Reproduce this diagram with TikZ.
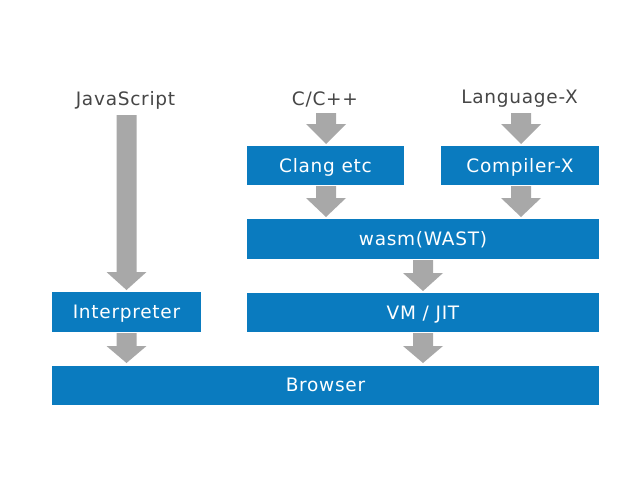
\documentclass[tikz,border=0pt]{standalone}
\usepackage{fontspec}
\setmainfont{DejaVu Sans}[LetterSpace=4]
\definecolor{boxblue}{HTML}{0A7BBF}
\definecolor{arrowgray}{HTML}{A8A8A8}
\definecolor{labelgray}{HTML}{464646}
\newcommand\garrow[4]{\fill[arrowgray] (#1-10,#2) -- (#1+10,#2) -- (#1+10,#3) -- (#1+20,#3) -- (#1,#4) -- (#1-20,#3) -- (#1-10,#3) -- cycle;}
\begin{document}
\begin{tikzpicture}[x=1pt,y=-1pt,
  box/.style={fill=boxblue, text=white, inner sep=0pt, text height=13.5pt, text depth=0pt, font=\fontsize{18.5}{21}\selectfont},
  lbl/.style={text=labelgray, inner sep=0pt, text height=13.5pt, text depth=0pt, font=\fontsize{18.5}{21}\selectfont}]
\useasboundingbox (0,0) rectangle (638,479);
\fill[white] (0,0) rectangle (638,479);
% labels
\node[lbl] (js) at (125.5,98.5) {JavaScript};
\node[lbl] (cpp) at (325,98.5) {C/C++};
\node[lbl] (langx) at (519.5,96.5) {Language-X};
% boxes
\node[box, minimum width=157pt, minimum height=39pt] (clang) at (325.5,165.5) {Clang etc};
\node[box, minimum width=158pt, minimum height=39pt] (compx) at (520,165.5) {Compiler-X};
\node[box, minimum width=352pt, minimum height=40pt] (wasm) at (423,238.5) {wasm(WAST)};
\node[box, minimum width=149pt, minimum height=40pt] (interp) at (126.5,312) {Interpreter};
\node[box, minimum width=352pt, minimum height=39pt] (vm) at (423,312.5) {VM / JIT};
\node[box, minimum width=547pt, minimum height=39pt] (browser) at (325.5,385) {Browser};
% arrows
\garrow{126.5}{115}{272}{290}
\garrow{326}{113}{124}{144}
\garrow{521}{113}{124}{144}
\garrow{326}{186}{198}{217}
\garrow{521}{186}{198}{217}
\garrow{423}{260}{273}{291}
\garrow{126.5}{333}{346}{363}
\garrow{423}{333}{346}{363}
\end{tikzpicture}
\end{document}
